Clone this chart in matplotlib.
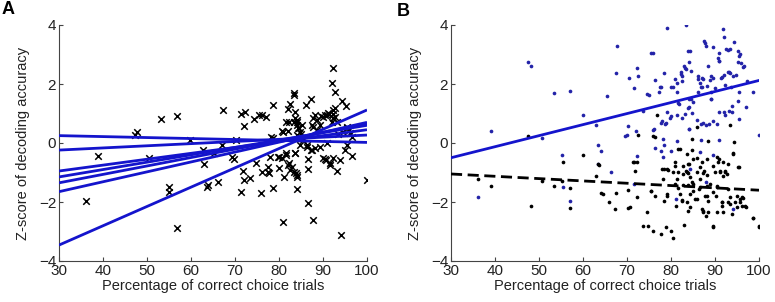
import matplotlib
matplotlib.use("Agg")
import matplotlib.pyplot as plt
import numpy as np

plt.rcParams['font.family'] = ['Liberation Sans', 'DejaVu Sans']

# ---------------- Panel A data ----------------
a_x = [36.1, 38.9, 47.3, 47.8, 50.5, 53.2, 55.0, 55.1, 56.9, 56.9, 59.8, 62.8, 63.0, 63.6, 63.9,
       65.3, 66.2, 67.1, 67.2, 69.4, 69.8, 70.2, 71.4, 71.4, 71.8, 72.0, 72.1, 72.3, 73.3, 74.3,
       74.8, 75.5, 75.8, 76.1, 76.2, 77.0, 77.6, 77.8, 78.0, 78.1, 78.6, 78.7, 78.7, 79.9, 80.1,
       80.6, 80.6, 80.9, 81.1, 81.6, 81.7, 82.1, 82.3, 82.5, 82.5, 82.9, 83.3, 83.5, 83.6, 83.6,
       83.6, 83.9, 84.2, 84.2, 84.2, 84.4, 84.8, 85.0, 85.3, 85.5, 86.1, 86.3, 86.7, 86.7, 86.7,
       87.2, 87.2, 87.6, 87.7, 87.7, 87.8, 88.2, 88.2, 88.6, 88.6, 89.5, 90.1, 90.5, 90.5, 90.8,
       91.2, 91.6, 92.0, 92.2, 92.2, 92.3, 92.3, 92.7, 92.7, 93.1, 93.1, 93.5, 93.9, 94.0, 94.3,
       95.0, 95.2, 95.4, 95.5, 95.8, 96.5, 96.7, 99.9,
       79.8, 81.7, 83.6, 82.1, 83.3, 84.0, 77.6, 89.3, 90.7, 91.6,
       80.8, 82.1, 82.3, 83.5, 84.0, 84.2, 84.5, 84.0, 84.8, 90.1, 90.8, 91.4, 92.2, 92.7, 92.0,
       89.3, 94.6, 95.4, 96.1, 86.3, 87.4]
a_y = [-1.97, -0.43, 0.27, 0.38, -0.51, 0.82, -1.48, -1.67, 0.92, -2.89, 0.10, -0.24, -0.72, -1.48, -1.42,
       -0.33, -1.33, -0.07, 1.12, -0.46, -0.55, 0.10, 0.97, -1.67, -0.94, -1.25, 0.58, 1.06, -1.18, 0.81,
       -0.69, 0.95, -1.71, -0.99, 0.95, 0.89, -0.80, -1.00, -0.46, 0.21, -1.54, 1.28, 0.16, -0.46, -0.86,
       -0.52, 0.41, -2.67, -1.14, 0.72, -0.41, 1.14, -0.69, -0.92, 1.32, -0.80, 1.68, 1.62, -0.33, 0.84,
       1.06, -1.03, -1.14, -1.57, 0.72, 0.50, -0.07, 0.30, 0.60, 0.10, 1.29, -0.07, -0.54, -0.88, -2.02,
       -0.24, 1.48, 0.61, 0.84, -2.61, 0.55, 0.95, -0.18, 0.44, 0.78, 0.90, -0.52, -0.55, 0.95, 0.00,
       1.03, -0.69, 2.04, 1.12, 0.84, 2.55, -0.52, 1.74, 1.18, -0.95, 0.72, 0.30, -0.58, -3.12, 1.43,
       -0.24, 1.25, -0.07, 0.55, 0.44, 0.20, -0.44, -1.25,
       -0.46, -0.35, -0.35, -0.75, -0.97, -1.08, -0.97, -0.15, -0.58, -0.75,
       0.38, 0.41, 0.72, 0.72, 0.78, 0.61, 0.50, 0.27, 0.38, 0.89, 0.95, 1.00, 1.00, 0.89, 0.72,
       0.61, 0.38, 0.50, 0.33, -0.12, -0.24]

# regression lines of panel A: value at x=30 and at x=100
a_line_start = [0.25, -0.24, -0.95, -1.15, -1.35, -1.65, -3.46]
a_line_end = [0.02, 0.27, 0.45, 0.60, 0.65, 0.70, 1.12]

# ---------------- Panel B data ----------------
b_blue_x = [47.4, 48.1, 53.5, 39.2, 50.6, 55.2, 55.4, 36.2, 57.0, 60.1, 63.0, 65.5, 67.5, 67.7, 69.6,
            70.0, 70.5, 71.6, 72.2, 72.6, 73.6, 74.5, 74.9, 75.5, 76.0, 76.0, 76.4, 77.3, 77.7, 78.3,
            78.6, 79.0, 80.0, 80.9, 82.3, 82.6, 83.2, 83.5, 83.9, 84.4, 83.3, 84.0, 84.5, 84.9, 84.2,
            84.5, 86.2, 86.6, 86.9, 87.0, 87.7, 87.9, 88.3, 88.9, 89.5, 89.0, 89.5, 90.0, 90.7, 90.9,
            91.6, 92.1, 91.9, 92.0, 93.0, 93.3, 93.2, 93.5, 93.6, 93.8, 94.3, 94.8, 95.3, 95.5, 95.3,
            95.9, 96.5, 95.4, 95.3, 95.5, 97.0, 97.3, 98.7, 100.0, 91.0, 92.0, 92.3, 93.1, 93.8,
            87.2, 88.0, 88.6, 90.5, 80.0, 81.3, 82.5, 77.8, 78.2, 84.2, 81.9, 83.1, 70.3, 72.1, 63.3,
            64.1, 63.5, 66.3, 72.2, 76.2, 77.9, 78.8, 79.1, 79.8, 81.6, 83.9, 84.0, 84.1, 84.7, 85.8,
            86.9, 89.1, 89.6, 90.8, 86.9, 81.4, 78.4, 76.4, 77.7, 80.0, 78.2, 86.6, 89.6, 84.3, 57.1,
            71.6, 81.1, 87.9, 94.0,
            87.4, 90.8, 95.7, 92.5, 90.8, 96.4, 83.0, 82.3, 86.2, 87.2, 89.2, 91.4, 92.9, 94.2, 86.2,
            87.0, 88.1, 89.2, 81.4, 82.6, 77.6, 80.4, 81.4, 92.2]
b_blue_y = [2.74, 2.60, 1.69, 0.42, 0.16, -0.41, -1.50, -1.82, 1.77, 0.95, 0.61, 1.58, 2.37, 3.29, 0.25,
            0.28, 2.20, 1.85, 2.53, 2.28, 1.09, 1.65, 1.63, 3.06, 3.04, 0.45, 2.15, 1.74, 1.89, 2.37,
            0.64, 3.91, 1.89, 2.17, 2.35, 2.28, 2.54, 2.50, 3.11, 3.13, 4.00, 2.74, 1.49, 1.40, 0.47,
            2.43, 2.17, 2.05, 1.90, 2.20, 3.39, 3.30, 2.62, 2.14, 2.20, 1.49, 3.24, 1.85, 2.88, 3.05,
            2.23, 2.30, 3.86, 3.58, 3.15, 3.20, 2.42, 2.36, 1.89, 1.26, 3.41, 2.31, 3.13, 2.95, 2.76,
            2.71, 2.60, 1.72, 1.43, 0.81, 1.21, 2.11, 1.72, 0.27, 1.05, 1.05, 0.95, 1.10, 1.05,
            0.68, 0.62, 0.66, 0.66, 0.90, 0.96, 0.85, 0.68, 0.14, 1.21, 1.32, 0.98, 0.57, 0.42, -0.07,
            -0.28, -0.71, -0.99, -0.43, 0.47, 0.76, 0.67, 1.06, 0.85, 1.35, 1.19, 0.48, 1.49, 1.01, 0.78,
            0.64, 1.49, 0.76, 0.10, 0.11, 0.08, -0.06, -0.17, -0.28, -0.28, -0.49, -0.32, -0.40, -0.88, -1.96,
            -1.39, -1.90, -1.33, -2.24,
            3.47, 2.79, 3.02, 3.19, 2.79, 2.59, 2.60, 2.40, 2.28, 2.17, 2.26, 2.19, 2.40, 2.26, 1.74,
            1.89, 1.92, 1.74, 2.05, 2.10, 1.90, 1.90, 1.74, 1.95]

b_black_x = [47.4, 55.4, 36.2, 39.2, 48.1, 53.5, 50.6, 55.2, 72.6, 75.9, 76.8, 84.8, 86.0, 93.3, 94.4,
             76.4, 88.5, 81.6, 59.9, 63.5, 63.7, 71.6, 71.8, 57.0, 57.0, 63.0, 64.1, 64.5, 65.8, 67.3,
             67.5, 70.3, 70.3, 70.6, 72.3, 74.5, 73.6, 74.8, 75.9, 77.7, 78.8, 79.9, 80.5, 83.0, 89.5,
             98.7, 100.0, 75.4, 76.4, 78.4, 79.0, 81.1, 84.9, 89.6, 71.4, 75.5, 77.9, 78.2,
             79.0, 79.2, 80.5, 80.9, 81.3, 81.7, 82.0, 82.0, 82.4, 82.8, 83.6, 83.9, 84.3, 84.7, 85.1,
             85.5, 86.0, 86.4, 86.6, 87.0, 87.2, 87.7, 88.3, 88.5, 88.9, 89.5, 90.0, 90.2, 90.5, 90.8,
             91.1, 91.5, 91.9, 92.3, 92.7, 93.0, 93.0, 93.4, 93.8, 94.2, 94.5, 94.9, 95.5, 95.7, 96.1,
             97.0, 98.6, 100.1,
             79.4, 80.9, 83.4, 84.2, 86.7, 87.5, 89.6, 90.7, 92.3, 83.6, 84.7, 85.8, 88.1, 90.4, 91.9,
             94.2, 95.3, 72.3,
             82.6, 83.6, 83.9, 84.3, 85.8, 87.0, 87.3, 87.9, 88.1, 90.4, 91.5, 91.7, 93.0, 93.4, 94.9,
             95.7, 96.1, 96.4, 96.8, 78.3, 81.7, 82.8, 83.9, 84.3, 87.3, 88.1, 91.1, 91.9, 80.9,
             82.8, 83.9, 85.1, 86.6, 88.1, 90.4]
b_black_y = [0.25, -0.65, -1.22, -1.45, -2.15, -1.45, -1.30, -1.28, 0.27, 0.25, 0.95, 0.14, 0.53, 0.61, 0.02,
             0.21, 0.06, -0.20, -0.40, -0.71, -0.75, -0.64, -0.94, -1.54, -2.21, -1.11, -1.71, -1.72, -2.01, -2.24,
             -1.69, -1.59, -2.21, -2.18, -1.84, -2.33, -2.80, -2.82, -2.97, -3.08, -2.86, -2.97, -3.23, -2.78, -2.86,
             -2.55, -2.82, -1.62, -1.79, -1.96, -1.79, -2.12, -1.62, -1.67, -0.63, -1.62, -0.88, -1.22,
             -1.73, -0.88, -0.99, -0.65, -1.22, -1.54, -0.20, -1.73, -1.92, -0.77, -0.99, -0.71, -1.73, -1.33, -0.54,
             -1.90, -0.99, -1.56, -1.22, -0.65, -2.29, -1.79, -1.95, -2.35, -1.39, -2.82, -0.97, -1.79, -1.45, -0.54,
             -0.94, -2.01, -2.35, -0.97, -1.05, -0.71, -1.56, -2.07, -2.41, -0.37, -1.99, -1.79, -0.82, -2.01, -1.84,
             -2.18, -2.55, -2.84,
             -0.92, -0.77, -0.96, -0.71, -0.83, -0.94, -0.77, -0.66, -0.96, -0.37, -0.24, -0.51, -0.54, -0.49, -0.66,
             -0.35, -0.80, -0.66,
             -1.95, -2.01, -2.29, -2.18, -1.90, -2.24, -2.35, -2.46, -1.79, -2.35, -2.01, -2.12, -2.01, -1.84, -2.18,
             -1.90, -2.12, -1.88, -2.15, -0.88, -0.99, -1.05, -1.02, -1.16, -1.02, -1.08, -0.99, -1.11, -1.39,
             -1.42, -1.42, -1.39, -1.50, -1.45, -1.50]

# regression lines of panel B: value at x=30 and x=100
b_blue_line = [-0.50, 2.12]
b_black_line = [-1.05, -1.60]

x_range = [30, 100]
x_ticks = [30, 40, 50, 60, 70, 80, 90, 100]
y_ticks = [-4, -2, 0, 2, 4]
xlabel = "Percentage of correct choice trials"
ylabel = "Z-score of decoding accuracy"

LINE_BLUE = '#1414cc'
DOT_BLUE = '#2323a8'

fig = plt.figure(figsize=(7.75, 3.02), dpi=100)
axA = fig.add_axes([59 / 775, 41 / 302, 308 / 775, 236 / 302])
axB = fig.add_axes([451 / 775, 41 / 302, 308 / 775, 236 / 302])


def style(ax):
    ax.set_xlim(30, 100)
    ax.set_ylim(-4, 4)
    ax.set_xticks(x_ticks)
    ax.set_yticks(y_ticks)
    for s in ['top', 'right']:
        ax.spines[s].set_visible(False)
    for s in ['left', 'bottom']:
        ax.spines[s].set_color('#444444')
        ax.spines[s].set_linewidth(0.8)
    ax.tick_params(direction='in', length=3, width=0.8, color='#444444',
                   labelsize=11, pad=2, labelcolor='#222222')
    ax.set_xlabel(xlabel, fontsize=10.5, labelpad=1, color='#222222')
    ax.set_ylabel(ylabel, fontsize=10.5, color='#222222')
    ax.yaxis.set_label_coords(-0.095, 0.5)


# Panel A
axA.scatter(a_x, a_y, marker='x', s=22, c='black', linewidths=1.1, zorder=2)
for s0, s1 in zip(a_line_start, a_line_end):
    axA.plot(x_range, [s0, s1], color=LINE_BLUE, lw=2.0, zorder=3, solid_capstyle='butt')
style(axA)

# Panel B
axB.scatter(b_blue_x, b_blue_y, marker='o', s=7, c=DOT_BLUE, linewidths=0, zorder=2)
axB.scatter(b_black_x, b_black_y, marker='o', s=7, c='black', linewidths=0, zorder=2)
axB.plot(x_range, b_blue_line, color=LINE_BLUE, lw=2.0, zorder=3)
axB.plot(x_range, b_black_line, color='black', lw=2.0, ls=(0, (4, 2)), zorder=3)
style(axB)

fig.text(8 / 775, 1 - 10 / 302, 'A', fontsize=13, fontweight='bold', ha='center', va='center')
fig.text(403 / 775, 1 - 12 / 302, 'B', fontsize=13, fontweight='bold', ha='center', va='center')

fig.savefig('out.png', dpi=100)
